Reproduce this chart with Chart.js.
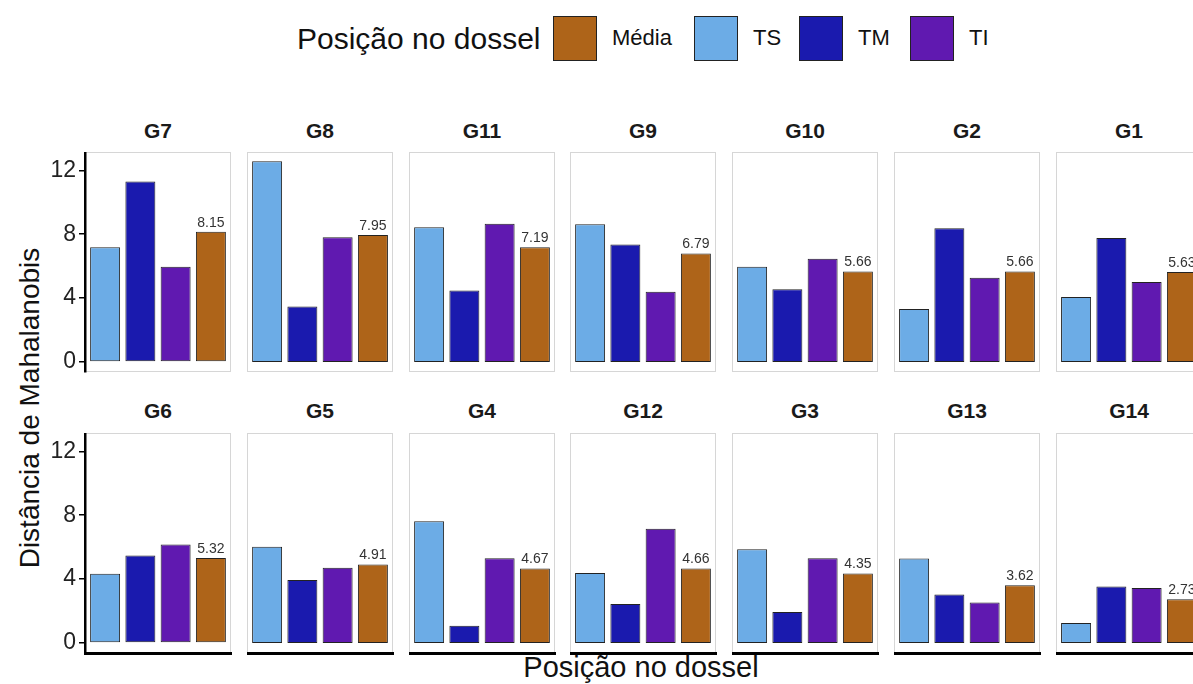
<!DOCTYPE html>
<html>
<head>
<meta charset="utf-8">
<script src="https://cdn.jsdelivr.net/npm/chart.js@4.4.1/dist/chart.umd.min.js"></script>
<style>
  body { margin: 0; width: 1193px; height: 684px; overflow: hidden; background: #fff;
         font-family: "Liberation Sans", Arial, sans-serif; position: relative; }
  .abs { position: absolute; }
  .strip { position: absolute; font-weight: bold; font-size: 21px; text-align: center;
           color: #1a1a1a; line-height: 24px; height: 24px; }
  .legend-title { position: absolute; left: 297px; top: 21px; font-size: 30px; line-height: 36px; color: #111; }
  .key { position: absolute; top: 16px; width: 44px; height: 45px; box-sizing: border-box; border: 1px solid #222; }
  .key-label { position: absolute; top: 25px; font-size: 22px; line-height: 26px; color: #111; }
  .axis-title { position: absolute; font-size: 28px; color: #111; white-space: nowrap; line-height: 34px; }
</style>
</head>
<body>
<div class="legend-title">Posição no dossel</div>
<div id="legend"></div>
<div class="axis-title" id="ytitle">Distância de Mahalanobis</div>
<div class="axis-title" id="xtitle">Posição no dossel</div>

<script>
// data (facet order as shown)
const groups = ['G7', 'G8', 'G11', 'G9', 'G10', 'G2', 'G1',
                'G6', 'G5', 'G4', 'G12', 'G3', 'G13', 'G14'];
const positions = ['TS', 'TM', 'TI', 'Média'];
const tsValues = [7.18, 12.57, 8.43, 8.62, 5.97, 3.32, 4.07, 4.33, 6.02, 7.62, 4.38, 5.87, 5.29, 1.25];
const tmValues = [11.31, 3.47, 4.47, 7.35, 4.55, 8.38, 7.77, 5.47, 3.94, 1.08, 2.44, 1.94, 3.04, 3.54];
const tiValues = [5.97, 7.81, 8.66, 4.40, 6.46, 5.28, 5.01, 6.16, 4.71, 5.30, 7.15, 5.31, 2.54, 3.44];
const mediaValues = [8.15, 7.95, 7.19, 6.79, 5.66, 5.66, 5.63, 5.32, 4.91, 4.67, 4.66, 4.35, 3.62, 2.73];
const yTicks = [0, 4, 8, 12];

const colors = { 'TS': '#6CACE6', 'TM': '#1A1AAE', 'TI': '#6019B0', 'Média': '#AE6419' };
const legendOrder = ['Média', 'TS', 'TM', 'TI'];

const font = '"Liberation Sans", Arial, sans-serif';

// legend (html)
const legendBox = document.getElementById('legend');
const keyLeft = [553, 694, 799, 910];
const labelLeft = [612, 753, 858, 969];
legendOrder.forEach((p, i) => {
    const k = document.createElement('div');
    k.className = 'key';
    k.style.left = keyLeft[i] + 'px';
    k.style.background = colors[p];
    legendBox.appendChild(k);
    const l = document.createElement('div');
    l.className = 'key-label';
    l.style.left = labelLeft[i] + 'px';
    l.textContent = p;
    legendBox.appendChild(l);
});

// axis titles
const yt = document.getElementById('ytitle');
yt.style.left = '30px';
yt.style.top = '408px';
yt.style.transform = 'translate(-50%, -50%) rotate(-90deg)';
const xt = document.getElementById('xtitle');
xt.style.left = '641px';
xt.style.top = '667px';
xt.style.fontSize = '29px';
xt.style.transform = 'translate(-50%, -50%)';

// grey box around each panel
const panelBorder = {
    id: 'panelBorder',
    beforeDraw(chart) {
        const { ctx, chartArea: a } = chart;
        ctx.save();
        ctx.strokeStyle = '#d6d6d6';
        ctx.lineWidth = 1;
        ctx.strokeRect(a.left + 0.5, a.top + 0.5, a.right - a.left - 1, a.bottom - a.top - 1);
        ctx.restore();
    }
};

// value over the Média bar
const meanLabel = {
    id: 'meanLabel',
    afterDatasetsDraw(chart) {
        const bar = chart.getDatasetMeta(0).data[3];
        const v = chart.data.datasets[0].data[3].y;
        const ctx = chart.ctx;
        ctx.save();
        ctx.fillStyle = '#333';
        ctx.font = '14px ' + font;
        ctx.textAlign = 'center';
        ctx.textBaseline = 'bottom';
        ctx.fillText(v.toFixed(2), bar.x, bar.y - 2);
        ctx.restore();
    }
};

const rowTop = [152, 433];
const stripTop = [119, 399];
const panelW = 146, panelH = 220;
const yAxisW = 50;

groups.forEach((g, k) => {
    const row = Math.floor(k / 7), col = k % 7;
    const left = Math.round(85 + col * 161.8);
    const top = rowTop[row];
    const first = col === 0;
    const bottom = row === 1;

    const w = panelW + (first ? yAxisW : 0) + 1;
    const h = panelH + 4;
    const box = document.createElement('div');
    box.className = 'abs';
    box.style.left = (left - (first ? yAxisW : 0)) + 'px';
    box.style.top = top + 'px';
    const cv = document.createElement('canvas');
    cv.width = w;
    cv.height = h;
    box.appendChild(cv);
    document.body.appendChild(box);

    const strip = document.createElement('div');
    strip.className = 'strip';
    strip.style.left = left + 'px';
    strip.style.top = stripTop[row] + 'px';
    strip.style.width = panelW + 'px';
    strip.textContent = g;
    document.body.appendChild(strip);

    const vals = [tsValues[k], tmValues[k], tiValues[k], mediaValues[k]];

    new Chart(cv, {
        type: 'bar',
        data: {
            datasets: [{
                data: positions.map((p, i) => ({ x: i + 1, y: vals[i] })),
                backgroundColor: positions.map(p => colors[p]),
                borderColor: '#222',
                borderWidth: 1,
                borderSkipped: false,
                barPercentage: 0.85,
                categoryPercentage: 1
            }]
        },
        options: {
            responsive: false,
            animation: false,
            layout: { padding: { top: 0, right: 1, bottom: 4, left: 0 } },
            plugins: { legend: { display: false }, tooltip: { enabled: false } },
            scales: {
                x: {
                    type: 'linear',
                    offset: false,
                    min: 0.43,
                    max: 4.57,
                    display: bottom,
                    grid: { display: true, drawOnChartArea: false, drawTicks: false },
                    border: { display: true, color: '#000', width: 3 },
                    ticks: { display: false },
                    afterFit: s => { s.paddingLeft = 0; s.paddingRight = 0; }
                },
                y: {
                    display: first,
                    min: -0.63,
                    max: 13.15,
                    afterBuildTicks: s => { s.ticks = yTicks.map(v => ({ value: v })); },
                    afterFit: s => {
                        if (first) s.width = yAxisW;
                        s.paddingTop = 0;
                        s.paddingBottom = 0;
                    },
                    grid: { display: true, drawOnChartArea: false, drawTicks: true,
                            tickLength: 6, color: '#000', lineWidth: 1.5 },
                    border: { display: true, color: '#000', width: 2.5 },
                    ticks: { color: '#222', font: { size: 23, family: font }, padding: 3 }
                }
            }
        },
        plugins: [panelBorder, meanLabel]
    });
});
</script>
</body>
</html>
